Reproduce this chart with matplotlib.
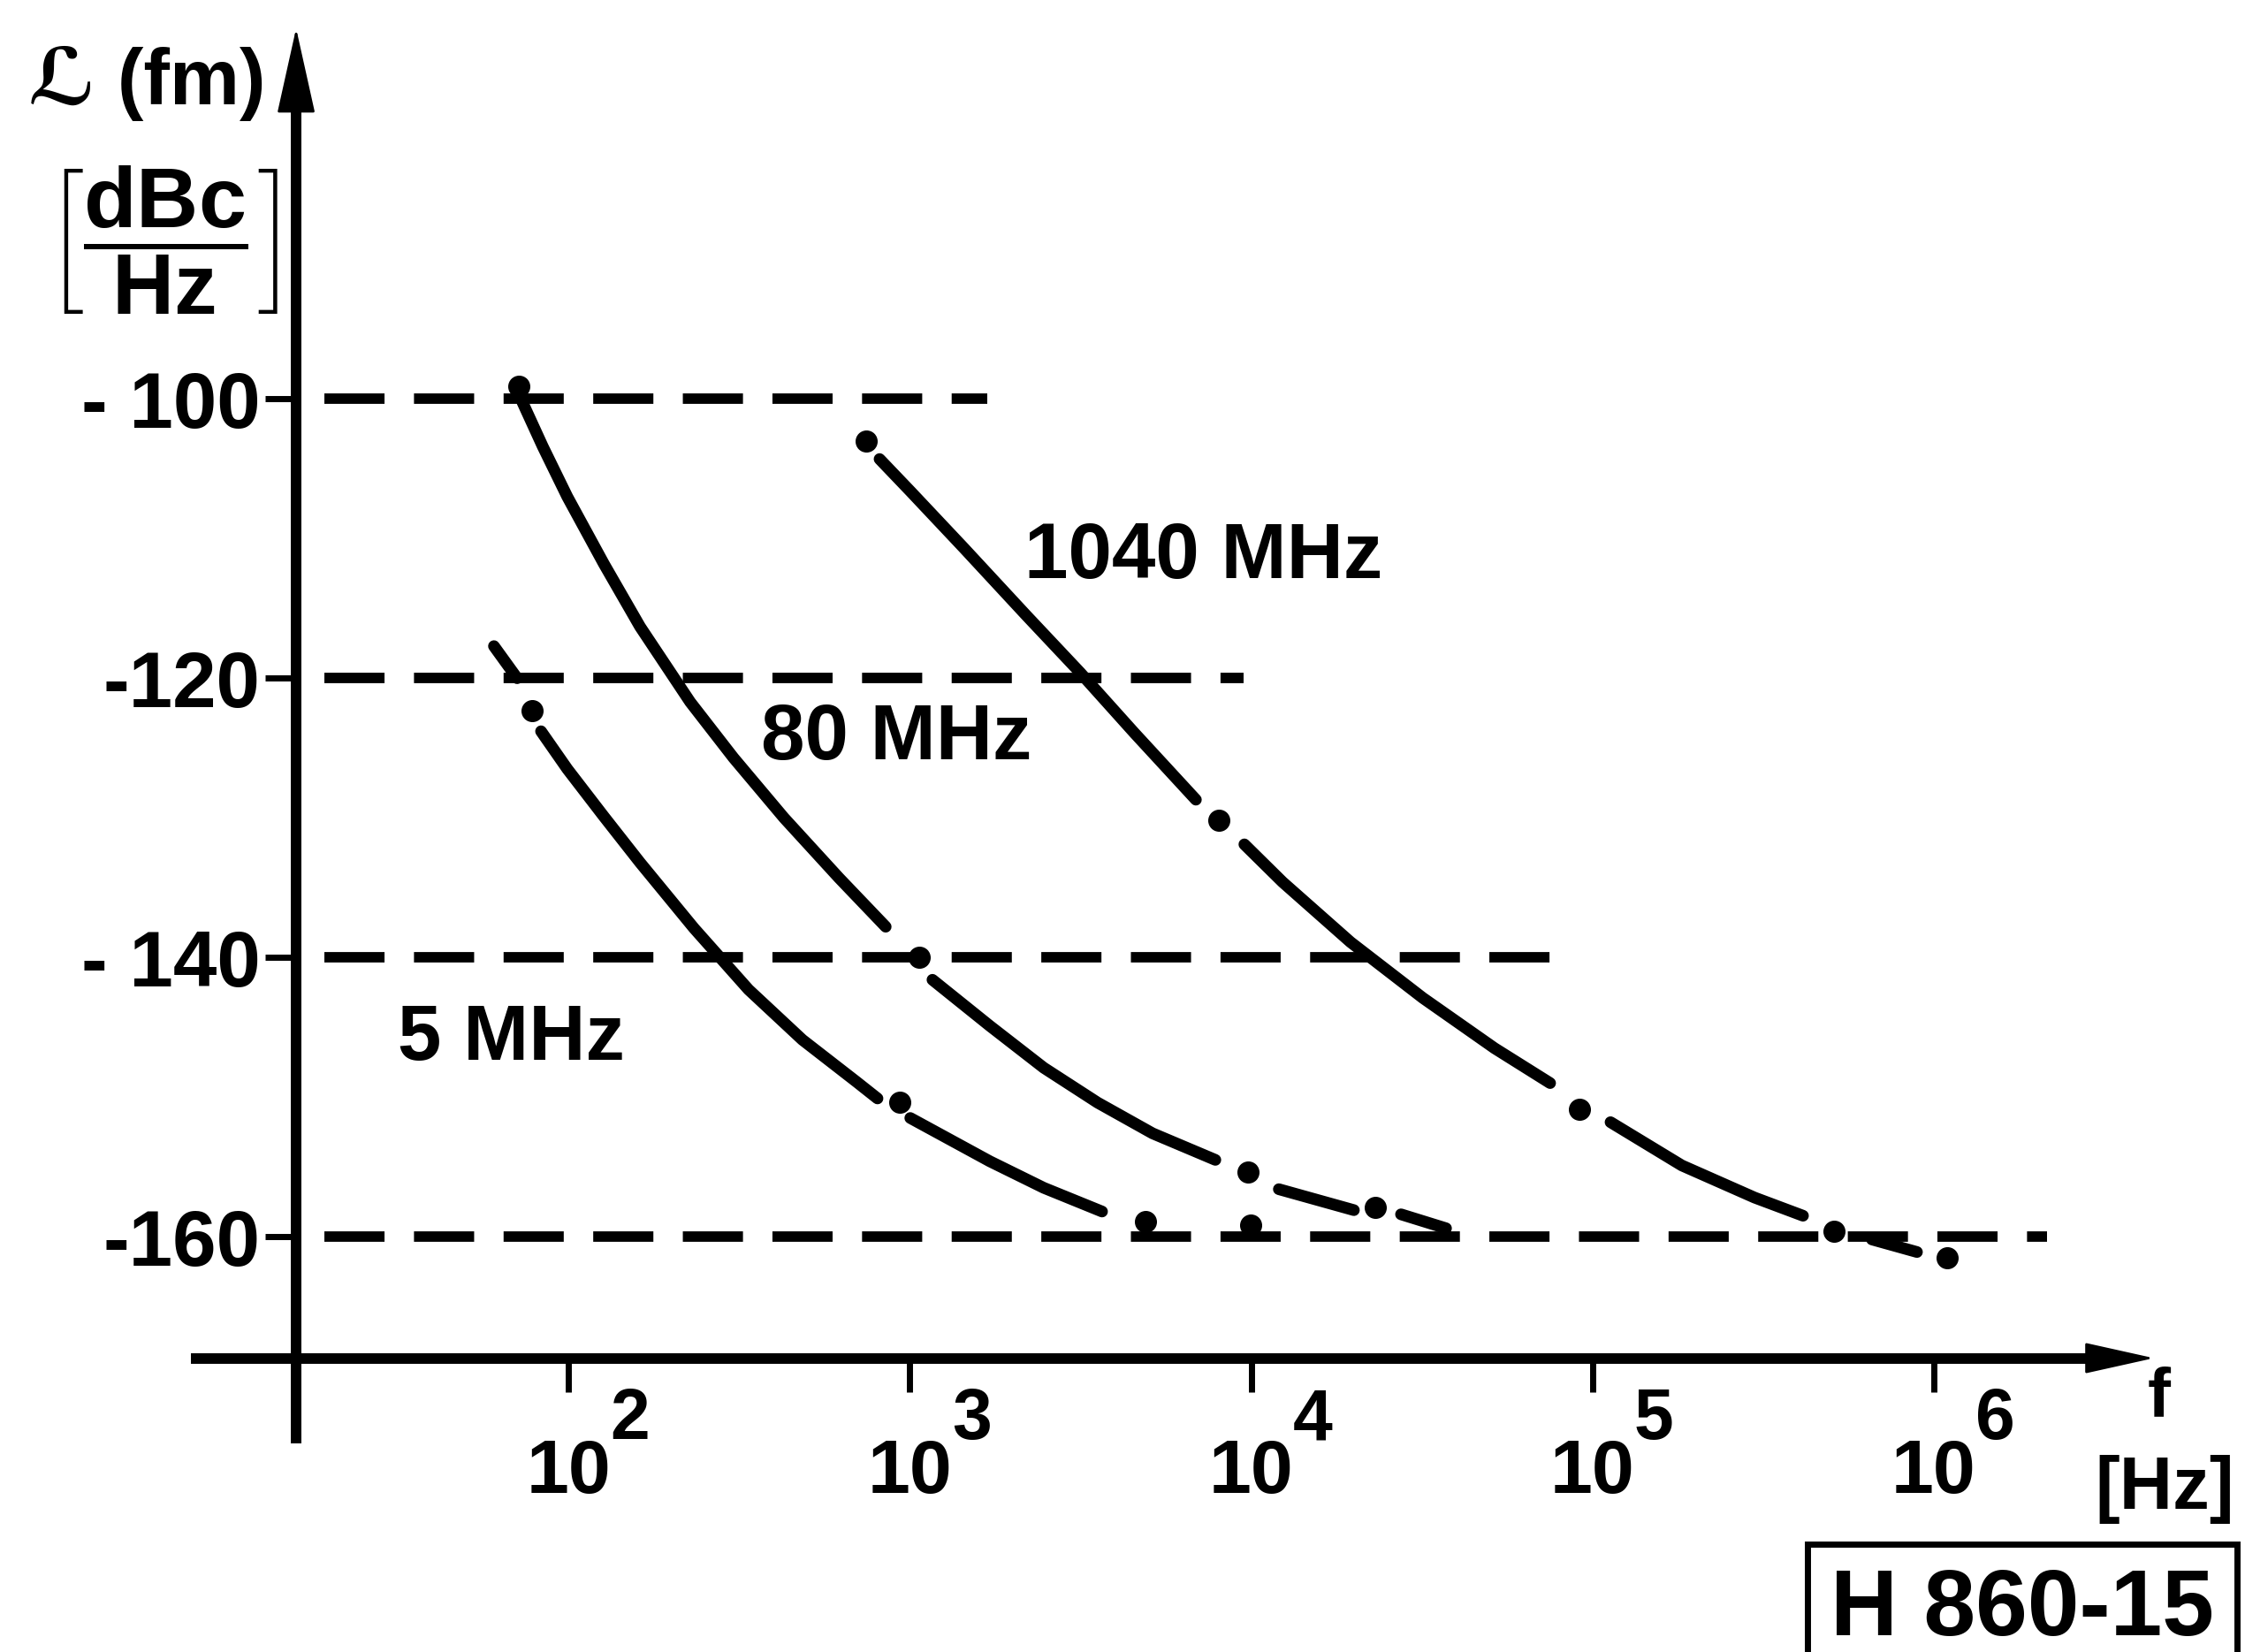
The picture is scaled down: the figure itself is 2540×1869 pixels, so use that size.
import numpy as np
import matplotlib
matplotlib.use("Agg")
import matplotlib.pyplot as plt
from matplotlib.ticker import NullLocator

plt.rcParams["font.family"] = ["Liberation Sans", "DejaVu Sans"]
plt.rcParams["font.weight"] = "bold"
plt.rcParams["lines.scale_dashes"] = False
plt.rcParams["mathtext.fontset"] = "custom"
plt.rcParams["mathtext.rm"] = "Liberation Sans"
plt.rcParams["mathtext.bf"] = "Liberation Sans:bold"

W_PX, H_PX, DPI = 2540, 1869, 100
nan = np.nan

# horizontal guide levels [dBc/Hz] and where the dashed guides stop [Hz]
LEVELS = [-100, -120, -140, -160]
LEVEL_LABELS = ["- 100", "-120", "- 140", "-160"]
GUIDE_START_HZ = 19.2
GUIDE_END_HZ = [1.69e3, 9.5e3, 7.6e4, 2.15e6]

DECADES = [2, 3, 4, 5, 6]

# curves: log10(f) and L(fm); NaN = pen lifted
F5_LOG = [1.781, 1.849, nan,
          1.919, 1.996, 2.103, 2.209, 2.367, 2.527, 2.685, 2.843, 2.905, nan,
          3.001, 3.234, 3.392, 3.563]
L5 = [-117.7, -120.0, nan,
      -123.8, -126.5, -129.9, -133.2, -137.9, -142.3, -145.9, -148.9, -150.1, nan,
      -151.5, -154.6, -156.5, -158.2]
DOT5_LOG = [1.893, 2.970, 3.690, 3.999]
DOT5_L = [-122.3, -150.4, -158.9, -159.2]

F80_LOG = [1.864, 1.924, 1.996, 2.103, 2.209, 2.356, 2.483, 2.631, 2.792, 2.929, nan,
           3.066, 3.234, 3.392, 3.550, 3.711, 3.895, nan,
           4.081, 4.301, nan,
           4.439, 4.571]
L80 = [-100.2, -103.4, -107.0, -111.8, -116.3, -121.7, -125.7, -130.0, -134.3, -137.8, nan,
       -141.6, -144.9, -147.9, -150.4, -152.6, -154.5, nan,
       -156.6, -158.1, nan,
       -158.4, -159.4]
DOT80_LOG = [1.854, 3.027, 3.991, 4.364]
DOT80_L = [-99.1, -140.0, -155.4, -157.9]

F1040_LOG = [2.911, 3.001, 3.159, 3.341, 3.499, 3.657, 3.838, nan,
             3.980, 4.092, 4.291, 4.503, 4.713, 4.876, nan,
             5.053, 5.262, 5.475, 5.617, nan,
             5.819, 5.951]
L1040 = [-104.3, -106.6, -110.7, -115.5, -119.6, -123.9, -128.7, nan,
         -131.9, -134.6, -138.9, -142.9, -146.5, -149.0, nan,
         -151.8, -154.9, -157.2, -158.5, nan,
         -160.2, -161.1]
DOT1040_LOG = [2.872, 3.905, 4.962, 5.708, 6.039]
DOT1040_L = [-103.0, -130.2, -150.9, -159.6, -161.5]

CURVES = [
    ("5 MHz", F5_LOG, L5, DOT5_LOG, DOT5_L, (31.6, -147.3)),
    ("80 MHz", F80_LOG, L80, DOT80_LOG, DOT80_L, (366, -125.8)),
    ("1040 MHz", F1040_LOG, L1040, DOT1040_LOG, DOT1040_L, (2163, -112.8)),
]

# axis cross point
F_AXIS = 15.9
L_AXIS = -168.7


def px(x, y):
    """figure pixel -> axes fraction (the axes fill the whole figure)"""
    return x / W_PX, 1 - y / H_PX


fig = plt.figure(figsize=(W_PX / DPI, H_PX / DPI), dpi=DPI)
ax = fig.add_axes([0, 0, 1, 1])
ax.set_xscale("log")
ax.set_xlim(10 ** 0.3336, 10 ** 6.9122)
ax.set_ylim(-189.75, -71.42)
ax.patch.set_visible(False)

# axes drawn as two crossing lines with arrow heads
for side in ("top", "right"):
    ax.spines[side].set_visible(False)
ax.spines["left"].set_position(("data", F_AXIS))
ax.spines["left"].set_bounds(-174.4, -79.5)
ax.spines["bottom"].set_position(("data", L_AXIS))
ax.spines["bottom"].set_bounds(8.1, 2.9e6)
for side in ("left", "bottom"):
    ax.spines[side].set_linewidth(8.6)

ax.annotate("", xy=(F_AXIS, -73.45), xytext=(F_AXIS, -80.5),
            arrowprops=dict(arrowstyle="-|>,head_length=0.9,head_width=0.2",
                            mutation_scale=70, lw=2, color="black",
                            shrinkA=0, shrinkB=0))
ax.annotate("", xy=(4.42e6, L_AXIS), xytext=(2.6e6, L_AXIS),
            arrowprops=dict(arrowstyle="-|>,head_length=0.72,head_width=0.16",
                            mutation_scale=70, lw=2, color="black",
                            shrinkA=0, shrinkB=0))

ax.set_yticks(LEVELS)
ax.set_yticklabels(LEVEL_LABELS)
ax.set_xticks([10.0 ** d for d in DECADES])
ax.set_xticklabels(["10"] * len(DECADES))
ax.xaxis.set_minor_locator(NullLocator())
ax.tick_params(axis="y", direction="out", length=25, width=5, pad=4, labelsize=64)
ax.tick_params(axis="x", direction="out", length=27, width=5, pad=38, labelsize=62)
for d in DECADES:
    ax.annotate(str(d), xy=(10.0 ** d, L_AXIS), xytext=(34, -66),
                textcoords="offset points", ha="left", va="baseline",
                fontsize=58, fontweight="bold")

# dashed guide lines
for lev, f_end in zip(LEVELS, GUIDE_END_HZ):
    ax.plot([GUIDE_START_HZ, f_end], [lev, lev], color="black", lw=8.5,
            dashes=(49, 24), solid_capstyle="butt")

# dash-dot curves
for name, flog, lvals, dlog, dvals, lab in CURVES:
    ax.plot(10.0 ** np.array(flog), lvals, color="black", lw=9.5,
            solid_capstyle="round", solid_joinstyle="round")
    ax.plot(10.0 ** np.array(dlog), dvals, "o", color="black", ms=17)
    ax.text(lab[0], lab[1], name, fontsize=64, fontweight="bold",
            ha="left", va="baseline")

# axis titles
ax.text(*px(32, 118), "ℒ (fm)", transform=ax.transAxes, fontsize=64,
        ha="left", va="baseline")
ax.text(*px(183, 272), r"$\left[\dfrac{\mathbf{dBc}}{\mathbf{Hz}}\right]$",
        transform=ax.transAxes, fontsize=70, ha="center", va="center")
ax.text(*px(2443, 1602), "f", transform=ax.transAxes, fontsize=56,
        ha="center", va="baseline")
ax.text(*px(2528, 1707), "[Hz]", transform=ax.transAxes, fontsize=60,
        ha="right", va="baseline")
ax.text(*px(2505, 1850), "H 860-15", transform=ax.transAxes, fontsize=76,
        ha="right", va="baseline",
        bbox=dict(boxstyle="square,pad=0.25", fc="white", ec="black", lw=5))

fig.savefig("out.png", dpi=DPI)
